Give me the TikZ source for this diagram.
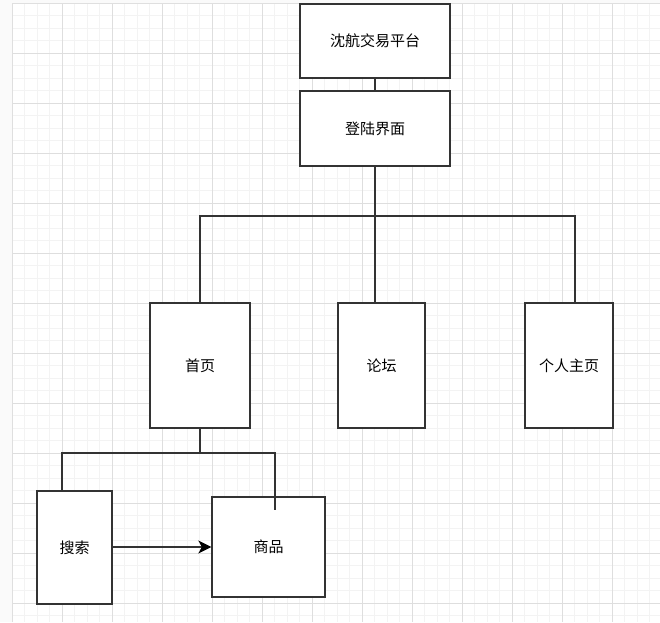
\documentclass[tikz,border=0pt]{standalone}
\usepackage{fontspec}
\newfontfamily\cjk{Noto Sans CJK SC}
\usetikzlibrary{arrows.meta}
\definecolor{minorgrid}{HTML}{F3F3F3}
\definecolor{majorgrid}{HTML}{DEDEDE}
\definecolor{edgegray}{HTML}{333333}
\tikzset{
  box/.style={draw=edgegray, line width=1.3pt, fill=white, inner sep=0pt,
    font=\cjk\fontsize{15}{18}\selectfont},
  link/.style={draw=edgegray, line width=1.3pt},
}
\begin{document}
\begin{tikzpicture}[x=1pt,y=-1pt]
\useasboundingbox (0,0) rectangle (660,622);
% page background
\fill[gray!4] (0,0) rectangle (660,622);
\fill[white] (12,3) rectangle (660,622);
\foreach \x in {24.5,37,...,660} \draw[minorgrid, line width=0.8pt] (\x,3) -- (\x,622);
\foreach \y in {15.5,28,...,622} \draw[minorgrid, line width=0.8pt] (12,\y) -- (660,\y);
\foreach \x in {62,112,...,660} \draw[majorgrid, line width=0.8pt] (\x,3) -- (\x,622);
\foreach \y in {53,103,...,622} \draw[majorgrid, line width=0.8pt] (12,\y) -- (660,\y);
\draw[gray!25, line width=1pt] (12,622) -- (12,3) -- (660,3);

% nodes
\node[box, minimum width=150pt, minimum height=74pt] (top) at (375,41) {沈航交易平台};
\node[box, minimum width=150pt, minimum height=75pt] (login) at (375,128.5) {登陆界面};
\node[box, minimum width=100pt, minimum height=125pt] (home) at (200,365.5) {首页};
\node[box, minimum width=87pt, minimum height=125pt] (forum) at (381.5,365.5) {论坛};
\node[box, minimum width=88pt, minimum height=125pt] (me) at (569,365.5) {个人主页};
\node[box, minimum width=75pt, minimum height=113pt] (search) at (74.5,547.5) {搜索};
\node[box, minimum width=113pt, minimum height=100pt] (goods) at (268.5,547) {商品};
\coordinate (gend) at (275,510);
\coordinate (meend) at (me.north -| 575,0);
\coordinate (forumend) at (forum.north -| login.south);
\coordinate (searchend) at (search.north -| 62,0);

% connectors
\draw[link] (top.south) -- (login.north);
\draw[link] (login.south) -- (375,216) -| (home.north);
\draw[link] (login.south) -- (375,216) -| (meend);
\draw[link] (login.south) -- (forumend);
\draw[link] (home.south) -- (200,453) -| (searchend);
\draw[link] (home.south) -- (200,453) -| (gend);
\draw[link, -{Stealth[length=13pt,width=13pt,inset=3.5pt,color=black]}] (search.east |- 0,547) -- (goods.west |- 0,547);
\end{tikzpicture}
\end{document}
